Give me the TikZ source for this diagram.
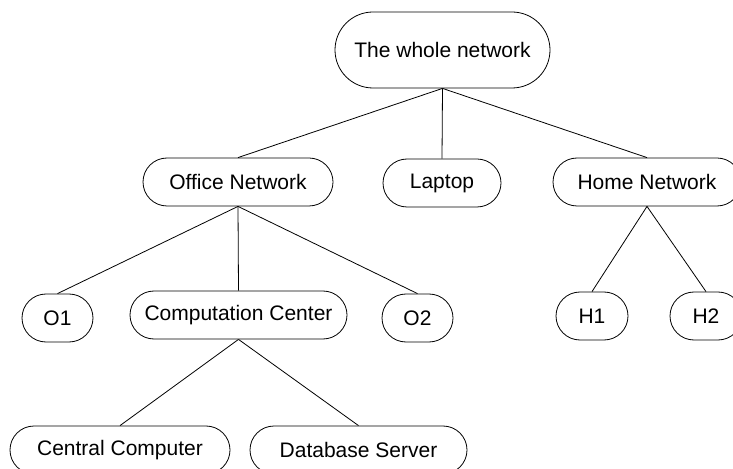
\documentclass[tikz,border=0pt]{standalone}
\usepackage{fontspec}
\setmainfont{Liberation Sans}
\begin{document}
\begin{tikzpicture}[x=1bp,y=-1bp,
  box/.style={draw, line width=0.8bp, rounded corners=24bp, minimum height=48bp,
    inner sep=0pt, font=\fontsize{21bp}{25bp}\selectfont},
  link/.style={line width=0.8bp}]
\useasboundingbox (0,0) rectangle (733,469);
\clip (0,0) rectangle (733,469);
\node[box, rounded corners=38bp, minimum height=76bp, minimum width=215bp] (root) at (442.5,50) {The whole network};
\node[box, minimum width=190bp] (office) at (238,182) {Office Network};
\node[box, minimum width=118bp] (laptop) at (442,183) {Laptop};
\node[box, minimum width=188bp] (home) at (647,182) {Home Network};
\node[box, minimum width=71bp] (o1) at (57.5,318) {O1};
\node[box, minimum width=217bp] (cc) at (238.5,315) {Computation Center};
\node[box, minimum width=71bp] (o2) at (417.5,318) {O2};
\node[box, minimum width=72bp] (h1) at (592,316) {H1};
\node[box, minimum width=72bp] (h2) at (706,316) {H2};
\node[box, minimum width=220bp] (central) at (120,450) {Central Computer};
\node[box, minimum width=217bp] (db) at (358.5,450) {Database Server};
\draw[link] (root.south) -- (office.north);
\draw[link] (root.south) -- (laptop.north);
\draw[link] (root.south) -- (home.north);
\draw[link] (office.south) -- (o1.north);
\draw[link] (office.south) -- (cc.north);
\draw[link] (office.south) -- (o2.north);
\draw[link] (home.south) -- (h1.north);
\draw[link] (home.south) -- (h2.north);
\draw[link] (cc.south) -- (central.north);
\draw[link] (cc.south) -- (db.north);
\end{tikzpicture}
\end{document}
